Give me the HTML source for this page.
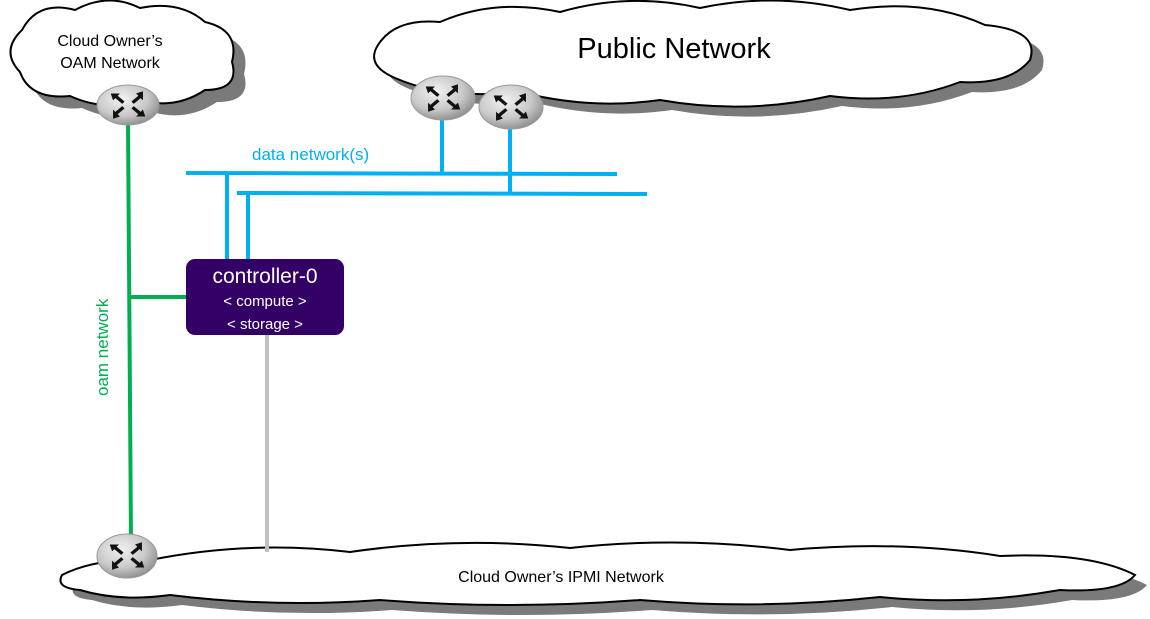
<!DOCTYPE html>
<html><head><meta charset="utf-8"><style>
html,body{margin:0;padding:0;background:#fff;width:1150px;height:619px;overflow:hidden}
svg{display:block}
text{font-family:"Liberation Sans",sans-serif}
</style></head><body>
<svg width="1150" height="619" viewBox="0 0 1150 619" xmlns="http://www.w3.org/2000/svg">
<defs>
<radialGradient id="rg" cx="40%" cy="35%" r="70%">
<stop offset="0" stop-color="#f2f2f2"/><stop offset="0.6" stop-color="#c8c8c8"/><stop offset="1" stop-color="#8a8a8a"/>
</radialGradient>
<path id="oam" d="M20,72 Q0,51 22,30 Q38,0 75,10 Q108,-8 140,8 Q180,0 205,22 Q240,30 232,62 Q240,90 205,90 Q175,110 140,100 Q105,112 70,96 Q30,100 20,72 Z"/>
<path id="pub" d="M395,78 Q365,65 378,45 Q395,18 440,22 Q495,-2 560,12 Q630,-8 700,8 Q775,-8 850,10 Q925,-2 985,25 Q1040,30 1030,60 Q1010,85 960,82 Q900,105 830,96 Q745,115 660,100 Q590,110 520,92 Q445,100 395,78 Z"/>
<path id="ipmi" d="M80,590 Q55,588 62,575 Q95,558 150,560 Q250,540 350,552 Q460,536 570,548 Q680,536 790,550 Q900,540 1000,556 Q1090,552 1135,575 Q1120,593 1060,590 Q970,606 880,597 Q760,610 640,600 Q510,610 380,600 Q275,608 170,595 Q120,602 80,590 Z"/>
<g id="arr" fill="#111">
<path d="M-15,-10 L-7,-10 L-9,-8 L-3,-3 L-5,-1 L-11,-6 L-13,-4 Z"/>
<path d="M15,-10 L15,-2 L13,-4 L7,1 L5,-1 L11,-6 L9,-8 Z" transform="translate(-2,-2)"/>
<path d="M-15,10 L-15,2 L-13,4 L-7,-1 L-5,1 L-11,6 L-9,8 Z" transform="translate(2,2)"/>
<path d="M15,10 L7,10 L9,8 L3,3 L5,1 L11,6 L13,4 Z"/>
</g>
</defs>
<use href="#oam" fill="#7a7a7a" transform="translate(12,12)"/>
<use href="#pub" fill="#7a7a7a" transform="translate(12,10)"/>
<use href="#ipmi" fill="#7a7a7a" transform="translate(12,10)"/>
<use href="#oam" fill="#fff" stroke="#000" stroke-width="2"/>
<use href="#pub" fill="#fff" stroke="#000" stroke-width="2"/>
<use href="#ipmi" fill="#fff" stroke="#000" stroke-width="2"/>
<text x="110" y="46" font-size="16" text-anchor="middle">Cloud Owner’s</text>
<text x="110" y="68" font-size="16" text-anchor="middle">OAM Network</text>
<text x="674" y="58" font-size="29" text-anchor="middle">Public Network</text>
<text x="561" y="582" font-size="16" text-anchor="middle">Cloud Owner’s IPMI Network</text>
<g stroke="#00b0f0" stroke-width="4">
<line x1="186" y1="173" x2="617" y2="174"/>
<line x1="237" y1="193" x2="647" y2="194"/>
<line x1="442" y1="115" x2="442" y2="173"/>
<line x1="510" y1="125" x2="510" y2="193"/>
<line x1="227" y1="173" x2="227" y2="260"/>
<line x1="248" y1="194" x2="248" y2="260"/>
</g>
<text x="252" y="160" font-size="17" fill="#00b0f0">data network(s)</text>
<g stroke="#00b050" stroke-width="4">
<line x1="128" y1="122" x2="131" y2="540"/>
<line x1="129" y1="297" x2="187" y2="297"/>
</g>
<text transform="translate(108,396) rotate(-90)" font-size="17" fill="#00b050">oam network</text>
<line x1="267" y1="335" x2="267" y2="552" stroke="#c0c0c0" stroke-width="4"/>
<rect x="186" y="259" width="158" height="76" rx="9" fill="#330066"/>
<text x="265" y="283" font-size="21" fill="#fff" text-anchor="middle">controller-0</text>
<text x="265" y="306" font-size="15" fill="#fff" text-anchor="middle">&lt; compute &gt;</text>
<text x="265" y="329" font-size="15" fill="#fff" text-anchor="middle">&lt; storage &gt;</text>
<g transform="translate(128,105)"><ellipse rx="31" ry="20" fill="url(#rg)" stroke="#999"/><use href="#arr" transform="scale(1.15)"/></g>
<g transform="translate(443,98)"><ellipse rx="32" ry="22" fill="url(#rg)" stroke="#999"/><use href="#arr" transform="scale(1.15)"/></g>
<g transform="translate(511,107)"><ellipse rx="32" ry="22" fill="url(#rg)" stroke="#999"/><use href="#arr" transform="scale(1.15)"/></g>
<g transform="translate(127,556)"><ellipse rx="30" ry="22" fill="url(#rg)" stroke="#999"/><use href="#arr" transform="scale(1.15)"/></g>
</svg>
</body></html>
